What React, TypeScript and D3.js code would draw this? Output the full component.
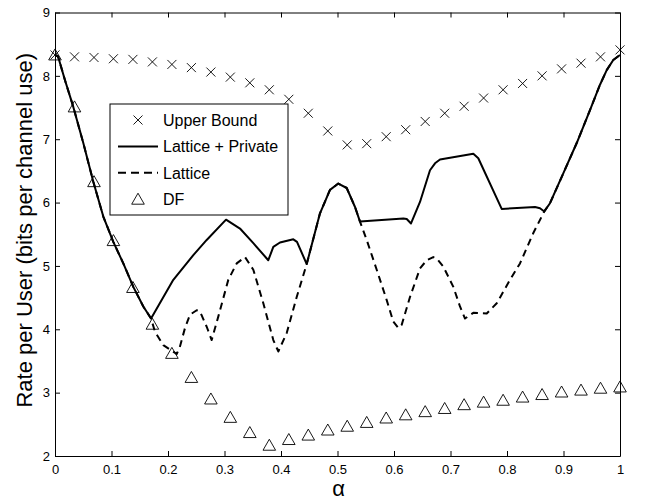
import React, { useEffect, useRef } from "react";
import * as d3 from "d3";

// marker positions (30 evenly spaced alpha values)
const markAlpha = [0, 0.0345, 0.069, 0.1034, 0.1379, 0.1724, 0.2069, 0.2414, 0.2759, 0.3103,
  0.3448, 0.3793, 0.4138, 0.4483, 0.4828, 0.5172, 0.5517, 0.5862, 0.6207, 0.6552,
  0.6897, 0.7241, 0.7586, 0.7931, 0.8276, 0.8621, 0.8966, 0.931, 0.9655, 1];

const upperBound = [8.33, 8.30, 8.29, 8.27, 8.26, 8.22, 8.18, 8.13, 8.06, 7.98,
  7.89, 7.78, 7.63, 7.41, 7.13, 6.91, 6.93, 7.04, 7.15, 7.28,
  7.41, 7.52, 7.65, 7.78, 7.88, 8.00, 8.11, 8.20, 8.30, 8.41];

const dfRate = [8.33, 7.51, 6.33, 5.40, 4.66, 4.08, 3.62, 3.24, 2.90, 2.61,
  2.37, 2.17, 2.26, 2.33, 2.41, 2.47, 2.53, 2.60, 2.65, 2.70,
  2.75, 2.81, 2.85, 2.88, 2.93, 2.97, 3.01, 3.04, 3.07, 3.09];

// Lattice + Private (solid)
const lpAlpha = [0, 0.0053, 0.0177, 0.0324, 0.0501, 0.0678, 0.0855, 0.1032, 0.1209, 0.1386,
  0.1563, 0.170, 0.2094, 0.2448, 0.2685, 0.3027, 0.3274, 0.351, 0.3775, 0.3864,
  0.3982, 0.4218, 0.4283, 0.4455, 0.469, 0.4867, 0.5014, 0.5163, 0.531, 0.5398,
  0.6165, 0.6225, 0.6301, 0.646, 0.6637, 0.6726, 0.6814, 0.7404, 0.7492, 0.7906,
  0.8496, 0.8584, 0.866, 0.8761, 0.8996, 0.9234, 0.9469, 0.9646, 0.9765, 0.9881, 1];
const lpRate = [8.33, 8.31, 7.93, 7.51, 6.94, 6.33, 5.78, 5.38, 5.04, 4.67,
  4.36, 4.17, 4.78, 5.17, 5.41, 5.73, 5.59, 5.36, 5.09, 5.30,
  5.37, 5.42, 5.38, 5.03, 5.83, 6.20, 6.30, 6.23, 5.93, 5.70,
  5.75, 5.74, 5.67, 6.01, 6.51, 6.62, 6.68, 6.77, 6.70, 5.90,
  5.93, 5.91, 5.86, 5.99, 6.46, 6.94, 7.46, 7.86, 8.09, 8.25, 8.33];

// Lattice (dashed)
const latAlpha = [0, 0.0053, 0.0177, 0.0324, 0.0501, 0.0678, 0.0855, 0.1032, 0.1209, 0.1386,
  0.1563, 0.170, 0.177, 0.1917, 0.2154, 0.2212, 0.2301, 0.2389, 0.2508, 0.2566,
  0.2685, 0.2773, 0.289, 0.3067, 0.3216, 0.3363, 0.351, 0.3687, 0.3864, 0.3952,
  0.4101, 0.4278, 0.4455, 0.469, 0.4867, 0.5014, 0.5163, 0.531, 0.5398, 0.5517,
  0.5694, 0.5871, 0.5988, 0.6076, 0.6136, 0.6283, 0.646, 0.6579, 0.6696, 0.6761,
  0.6873, 0.705, 0.7168, 0.7257, 0.7404, 0.7641, 0.7818, 0.8053, 0.823, 0.8466,
  0.866, 0.8761, 0.8996, 0.9234, 0.9469, 0.9646, 0.9765, 0.9881, 1];
const latRate = [8.33, 8.31, 7.93, 7.51, 6.94, 6.33, 5.78, 5.38, 5.04, 4.67,
  4.36, 4.17, 3.96, 3.75, 3.61, 3.73, 4.02, 4.23, 4.30, 4.28,
  4.04, 3.83, 4.20, 4.78, 5.04, 5.14, 4.94, 4.41, 3.83, 3.65,
  3.94, 4.51, 5.03, 5.83, 6.20, 6.30, 6.23, 5.93, 5.70, 5.41,
  4.94, 4.46, 4.12, 4.02, 4.07, 4.51, 4.96, 5.09, 5.14, 5.11,
  4.99, 4.67, 4.36, 4.17, 4.26, 4.25, 4.41, 4.78, 5.04, 5.52,
  5.86, 5.99, 6.46, 6.94, 7.46, 7.86, 8.09, 8.25, 8.33];

const xTicks = [0, 0.1, 0.2, 0.3, 0.4, 0.5, 0.6, 0.7, 0.8, 0.9, 1];
const yTicks = [2, 3, 4, 5, 6, 7, 8, 9];
const legendLabels = ["Upper Bound", "Lattice + Private", "Lattice", "DF"];

const FONT = "'Liberation Sans', Arial, Helvetica, sans-serif";
const crossPath = "M-4.5,-4.5L4.5,4.5M-4.5,4.5L4.5,-4.5";
const triPath = "M0,-6L6.3,5L-6.3,5Z";

export default function App() {
  const svgRef = useRef<SVGSVGElement>(null);

  useEffect(() => {
    const svg = d3.select(svgRef.current);
    svg.selectAll("*").remove();

    const left = 55, right = 620, top = 12.5, bottom = 456;
    const x = d3.scaleLinear().domain([0, 1]).range([left, right]);
    const y = d3.scaleLinear().domain([2, 9]).range([bottom, top]);

    // axes (ticks inward, box like matlab)
    const styleAxis = (g: any) => {
      g.attr("font-family", FONT).attr("font-size", 13);
      g.selectAll("path.domain").attr("stroke", "#000").attr("stroke-width", 1);
      g.selectAll(".tick line").attr("stroke", "#000").attr("stroke-width", 1);
      g.selectAll(".tick text").attr("fill", "#000");
    };
    svg.append("g")
      .attr("transform", `translate(0,${bottom})`)
      .call(d3.axisBottom(x).tickValues(xTicks).tickSizeInner(-5).tickSizeOuter(0).tickPadding(9)
        .tickFormat((d: any) => String(d)))
      .call(styleAxis);
    svg.append("g")
      .attr("transform", `translate(0,${top})`)
      .call(d3.axisTop(x).tickValues(xTicks).tickSizeInner(-5).tickSizeOuter(0).tickFormat(() => ""))
      .call(styleAxis);
    svg.append("g")
      .attr("transform", `translate(${left},0)`)
      .call(d3.axisLeft(y).tickValues(yTicks).tickSizeInner(-5).tickSizeOuter(0).tickPadding(5)
        .tickFormat(d3.format("d")))
      .call(styleAxis);
    svg.append("g")
      .attr("transform", `translate(${right},0)`)
      .call(d3.axisRight(y).tickValues(yTicks).tickSizeInner(-5).tickSizeOuter(0).tickFormat(() => ""))
      .call(styleAxis);

    // lines
    const line = d3.line<[number, number]>().x(d => x(d[0])).y(d => y(d[1]));
    svg.append("path")
      .attr("d", line(latAlpha.map((a, i) => [a, latRate[i]] as [number, number])))
      .attr("fill", "none").attr("stroke", "#000").attr("stroke-width", 2)
      .attr("stroke-dasharray", "7,5").attr("stroke-linejoin", "round");
    svg.append("path")
      .attr("d", line(lpAlpha.map((a, i) => [a, lpRate[i]] as [number, number])))
      .attr("fill", "none").attr("stroke", "#000").attr("stroke-width", 2)
      .attr("stroke-linejoin", "round");

    // markers
    svg.append("g").selectAll("path")
      .data(markAlpha)
      .join("path")
      .attr("transform", (d, i) => `translate(${x(d)},${y(upperBound[i])})`)
      .attr("d", crossPath).attr("stroke", "#000").attr("stroke-width", 0.9).attr("fill", "none");
    svg.append("g").selectAll("path")
      .data(markAlpha)
      .join("path")
      .attr("transform", (d, i) => `translate(${x(d)},${y(dfRate[i])})`)
      .attr("d", triPath).attr("stroke", "#000").attr("stroke-width", 0.9).attr("fill", "none");

    // legend
    const lg = svg.append("g").attr("transform", "translate(110,104)");
    lg.append("rect").attr("width", 178).attr("height", 111)
      .attr("fill", "#fff").attr("stroke", "#000").attr("stroke-width", 1);
    legendLabels.forEach((lab, i) => {
      const cy = 16 + i * 26.4;
      if (i === 0) lg.append("path").attr("transform", `translate(28,${cy})`).attr("d", crossPath)
        .attr("stroke", "#000").attr("stroke-width", 0.9).attr("fill", "none");
      if (i === 1) lg.append("line").attr("x1", 8).attr("x2", 48).attr("y1", cy).attr("y2", cy)
        .attr("stroke", "#000").attr("stroke-width", 2);
      if (i === 2) lg.append("line").attr("x1", 8).attr("x2", 48).attr("y1", cy).attr("y2", cy)
        .attr("stroke", "#000").attr("stroke-width", 2).attr("stroke-dasharray", "8,5");
      if (i === 3) lg.append("path").attr("transform", `translate(28,${cy})`).attr("d", triPath)
        .attr("stroke", "#000").attr("stroke-width", 0.9).attr("fill", "none");
      lg.append("text").attr("x", 53).attr("y", cy + 5.8).text(lab)
        .attr("font-family", FONT).attr("font-size", 16).attr("fill", "#000");
    });

    // axis labels
    svg.append("text")
      .attr("transform", `translate(32,${(top + bottom) / 2 - 4}) rotate(-90)`)
      .attr("text-anchor", "middle").attr("font-family", FONT).attr("font-size", 22)
      .text("Rate per User (bits per channel use)");
    svg.append("text")
      .attr("x", (left + right) / 2 + 1).attr("y", 496)
      .attr("text-anchor", "middle").attr("font-family", FONT).attr("font-size", 22)
      .text("α");
  }, []);

  return (
    <svg ref={svgRef} width={649} height={500}
      style={{ position: "absolute", left: 0, top: 0, background: "#fff" }} />
  );
}
